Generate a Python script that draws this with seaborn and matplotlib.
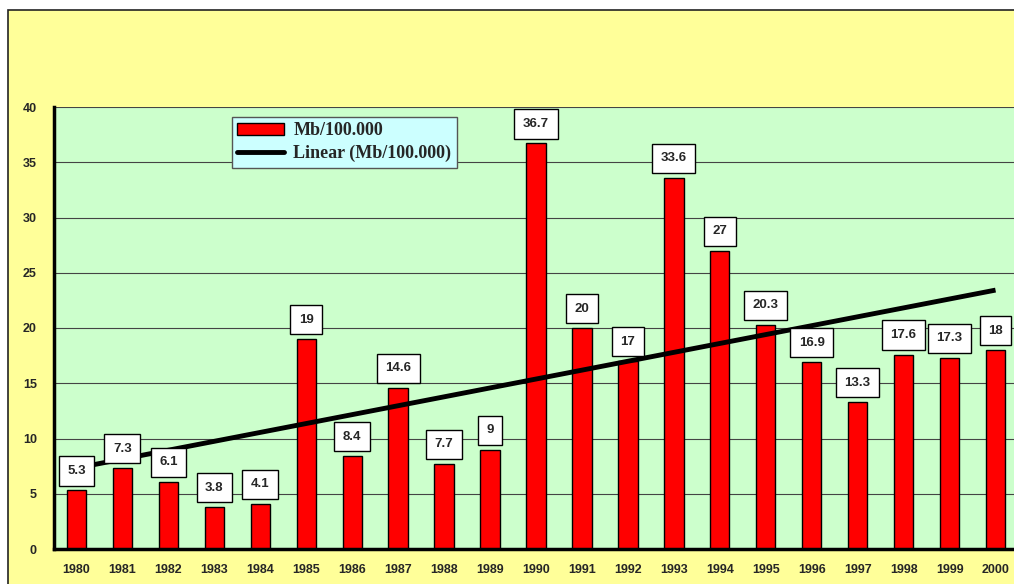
import numpy as np
import pandas as pd
import matplotlib
matplotlib.use("Agg")
import matplotlib.pyplot as plt
import seaborn as sns
from matplotlib.patches import Patch, Rectangle
from matplotlib.lines import Line2D

years = [str(y) for y in range(1980, 2001)]
values = [5.3, 7.3, 6.1, 3.8, 4.1, 19, 8.4, 14.6, 7.7, 9, 36.7, 20, 17, 33.6,
          27, 20.3, 16.9, 13.3, 17.6, 17.3, 18]
series_name = "Mb/100.000"
trend_name = "Linear (Mb/100.000)"
y_ticks = [0, 5, 10, 15, 20, 25, 30, 35, 40]

sns.set_style("white")
plt.rcParams['font.family'] = ['Liberation Sans', 'DejaVu Sans']

W, H = 1014, 584
fig = plt.figure(figsize=(W / 100, H / 100), dpi=100, facecolor='white')
fig.patches.append(Rectangle((8 / W, -0.05), 1.1, 1 - 10 / H + 0.05,
                             transform=fig.transFigure, facecolor='#FFFF99',
                             edgecolor='#222222', linewidth=1.2, zorder=-10))

ax = fig.add_axes([53.5 / W, 1 - 549 / H, 965 / W, 442 / H])
ax.set_zorder(1)
ax.set_facecolor('#CCFFCC')

df = pd.DataFrame({"year": years, "value": values})
sns.barplot(data=df, x="year", y="value", color='#FF0000', saturation=1,
            edgecolor='black', linewidth=1.0, width=0.42, ax=ax, zorder=3)

# linear trend
xs = np.arange(len(values))
slope, intercept = np.polyfit(xs, values, 1)
ax.plot(xs, slope * xs + intercept, color='black', lw=3.5, zorder=5,
        solid_capstyle='butt')

# data labels
for i, v in enumerate(values):
    txt = f"{v:g}"
    ax.annotate(txt, (i, v), xytext=(0, 14), textcoords='offset points',
                ha='center', va='center', fontsize=9.5, fontweight='bold',
                zorder=6,
                bbox=dict(boxstyle='square,pad=0.65', facecolor='white',
                          edgecolor='black', linewidth=1.0))

ax.set_xlim(-0.5, len(values) - 0.5)
ax.set_ylim(0, 40)
ax.set_yticks(y_ticks)
ax.set_xlabel("")
ax.set_ylabel("")
for yv in y_ticks[1:]:
    ax.axhline(yv, color='#444444', lw=0.8, zorder=1)

for s in ['top', 'right']:
    ax.spines[s].set_visible(False)
for s in ['left', 'bottom']:
    ax.spines[s].set_linewidth(2.5)
    ax.spines[s].set_color('black')
    ax.spines[s].set_zorder(7)

ax.tick_params(axis='y', direction='out', length=4, width=2, labelsize=9,
               pad=8)
ax.set_xticks(np.arange(-0.5, len(values), 1), minor=True)
ax.tick_params(axis='x', which='major', length=0, labelsize=9, pad=11)
ax.tick_params(axis='x', which='minor', direction='out', length=4, width=2)
for lab in ax.get_xticklabels() + ax.get_yticklabels():
    lab.set_fontweight('bold')

handles = [Patch(facecolor='#FF0000', edgecolor='black', linewidth=1.0),
           Line2D([0], [0], color='black', lw=3.5)]
leg = ax.legend(handles, [series_name, trend_name], loc='upper left',
                bbox_to_anchor=((232 - 53.5) / 965, 1 - (117 - 107) / 442),
                frameon=True, fancybox=False, framealpha=1,
                facecolor='#CCFFFF', edgecolor='#555555',
                prop={'family': 'Liberation Serif', 'weight': 'bold', 'size': 13},
                borderpad=0.3, labelspacing=0.3, handlelength=2.6,
                handletextpad=0.5, borderaxespad=0)
leg.get_frame().set_linewidth(1.0)
leg.set_zorder(8)

fig.savefig("out.png", dpi=100, facecolor=fig.get_facecolor())
